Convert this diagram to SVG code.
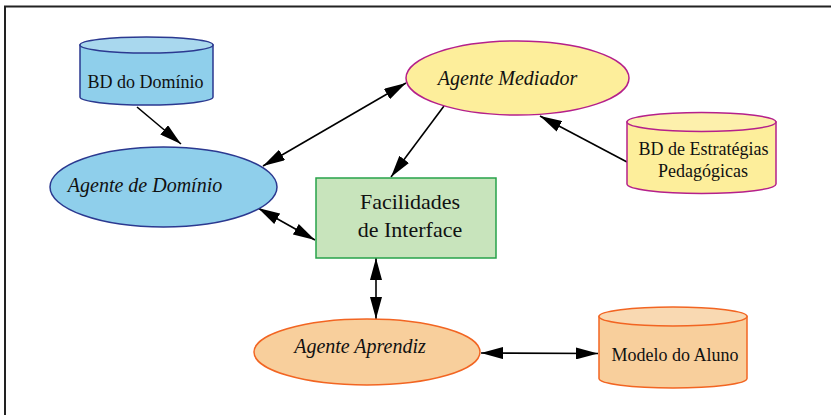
<svg xmlns="http://www.w3.org/2000/svg" width="831" height="415" viewBox="0 0 831 415">
<style>
text{font-family:'Liberation Serif',Tinos,'Times New Roman','DejaVu Serif',serif;fill:#111;text-anchor:middle}
.it{font-style:italic;font-size:20px}
.db{font-size:18px}
.blue{fill:#8fcfeb;stroke:#2b3990;stroke-width:1.5}
.bluetop{fill:#a9d8ee;stroke:#2b3990;stroke-width:1.5}
.yel{fill:#fdee9b;stroke:#b5208b;stroke-width:1.5}
.yeltop{fill:#fdf0ac;stroke:#b5208b;stroke-width:1.5}
.org{fill:#f8cf9c;stroke:#f26522;stroke-width:1.5}
.orgtop{fill:#f9d9b2;stroke:#f26522;stroke-width:1.5}
.grn{fill:#c8e4bc;stroke:#27a24a;stroke-width:1.5}
.edge{stroke:#000;stroke-width:1.6;fill:none}
</style>
<defs>
<marker id="ah" markerUnits="userSpaceOnUse" markerWidth="22" markerHeight="12" viewBox="0 0 22 12" refX="22" refY="6" orient="auto-start-reverse">
<path d="M0,0 L22,6 L0,12 z" fill="#000"/>
</marker>
</defs>
<rect x="0" y="0" width="831" height="415" fill="#fff"/>
<rect x="5" y="6.5" width="840" height="420" fill="none" stroke="#222" stroke-width="2"/>

<g id="connectors">
<line class="edge" x1="137" y1="107" x2="181" y2="144" marker-end="url(#ah)"/>
<line class="edge" x1="263" y1="166" x2="406" y2="83" marker-start="url(#ah)" marker-end="url(#ah)"/>
<line class="edge" x1="444" y1="106" x2="391" y2="177" marker-end="url(#ah)"/>
<line class="edge" x1="627" y1="162" x2="540" y2="116" marker-end="url(#ah)"/>
<line class="edge" x1="258" y1="208" x2="315" y2="240" marker-start="url(#ah)" marker-end="url(#ah)"/>
<line class="edge" x1="376" y1="258" x2="376" y2="319" marker-start="url(#ah)" marker-end="url(#ah)"/>
<line class="edge" x1="481" y1="353" x2="598" y2="353.5" marker-start="url(#ah)" marker-end="url(#ah)"/>
</g>

<g id="bd-dominio">
<path class="blue" d="M80,45 L80,97 A66.5,8 0 0 0 213,97 L213,45 Z"/>
<ellipse class="bluetop" cx="146.5" cy="45" rx="66.5" ry="8"/>
<text class="db" x="145.5" y="88">BD do Domínio</text>
</g>

<g id="agente-dominio">
<ellipse class="blue" cx="163.5" cy="187" rx="113.5" ry="40"/>
<text class="it" x="145" y="192">Agente de Domínio</text>
</g>

<g id="agente-mediador">
<ellipse class="yel" cx="517.5" cy="78" rx="111.5" ry="37"/>
<text class="it" x="507.5" y="85">Agente Mediador</text>
</g>

<g id="bd-estrategias">
<path class="yel" d="M627,122 L627,184 A74.5,9.5 0 0 0 776,184 L776,122 Z"/>
<ellipse class="yeltop" cx="701.5" cy="122" rx="74.5" ry="9.5"/>
<text class="db" x="703.5" y="155">BD de Estratégias</text>
<text class="db" x="703" y="177">Pedagógicas</text>
</g>

<g id="facilidades">
<rect class="grn" x="316" y="178" width="180" height="80"/>
<text x="410" y="209" font-size="22">Facilidades</text>
<text x="410" y="237" font-size="22">de Interface</text>
</g>

<g id="agente-aprendiz">
<ellipse class="org" cx="367" cy="352" rx="113" ry="33"/>
<text class="it" x="360" y="353">Agente Aprendiz</text>
</g>

<g id="modelo-aluno">
<path class="org" d="M599,316.5 L599,378.5 A74,9.5 0 0 0 747,378.5 L747,316.5 Z"/>
<ellipse class="orgtop" cx="673" cy="316.5" rx="74" ry="9.5"/>
<text class="db" x="675" y="361">Modelo do Aluno</text>
</g>
</svg>
